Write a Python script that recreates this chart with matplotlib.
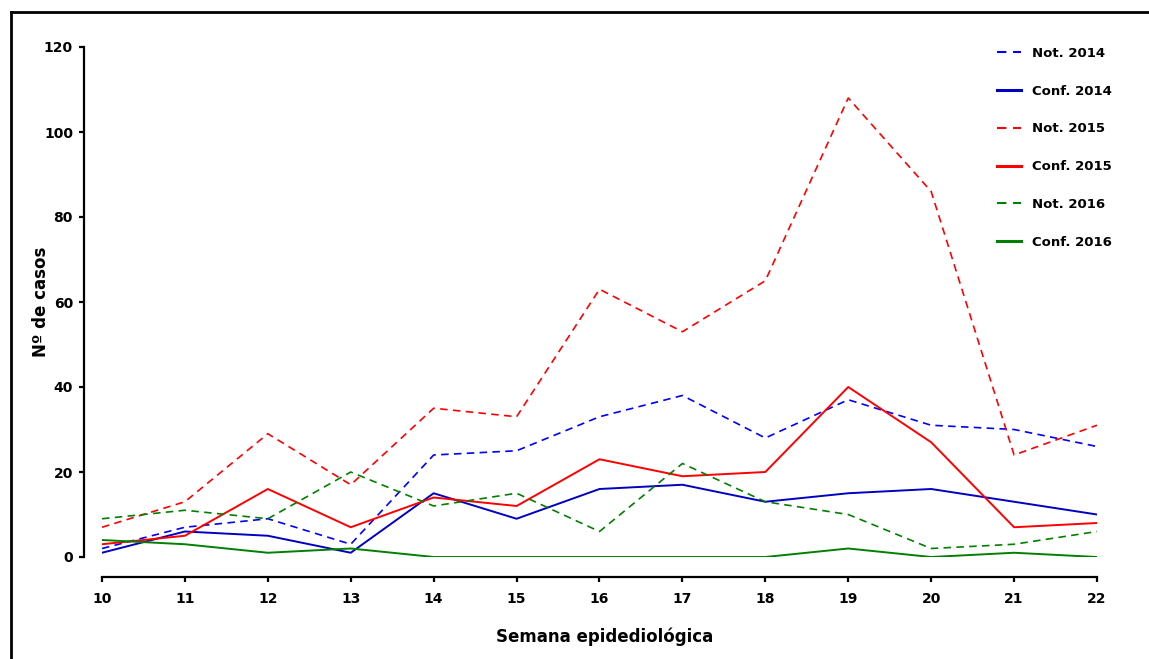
import matplotlib
matplotlib.use("Agg")
import matplotlib.pyplot as plt
from matplotlib.lines import Line2D

plt.rcParams['font.family'] = ['DejaVu Sans']
plt.rcParams['font.weight'] = 'bold'

weeks = [10, 11, 12, 13, 14, 15, 16, 17, 18, 19, 20, 21, 22]
not_2014 = [2, 7, 9, 3, 24, 25, 33, 38, 28, 37, 31, 30, 26]
conf_2014 = [1, 6, 5, 1, 15, 9, 16, 17, 13, 15, 16, 13, 10]
not_2015 = [7, 13, 29, 17, 35, 33, 63, 53, 65, 108, 86, 24, 31]
conf_2015 = [3, 5, 16, 7, 14, 12, 23, 19, 20, 40, 27, 7, 8]
not_2016 = [9, 11, 9, 20, 12, 15, 6, 22, 13, 10, 2, 3, 6]
conf_2016 = [4, 3, 1, 2, 0, 0, 0, 0, 0, 2, 0, 1, 0]
y_ticks = [0, 20, 40, 60, 80, 100, 120]

W, H = 1149, 659
PX = 72 / 100  # points per pixel
fig = plt.figure(figsize=(W / 100, H / 100), dpi=100)
ax = fig.add_axes([102 / W, 1 - 557 / H, (1097 - 102) / W, (557 - 47) / H])

dash = (0, (4.5, 3.2))
ax.plot(weeks, not_2014, color='#0000FF', lw=1.2, linestyle=dash, label='Not. 2014')
ax.plot(weeks, conf_2014, color='#0000C0', lw=1.4, label='Conf. 2014')
ax.plot(weeks, not_2015, color='#FF0000', lw=1.2, linestyle=dash, label='Not. 2015')
ax.plot(weeks, conf_2015, color='#FF0000', lw=1.4, label='Conf. 2015')
ax.plot(weeks, not_2016, color='#008000', lw=1.2, linestyle=dash, label='Not. 2016')
ax.plot(weeks, conf_2016, color='#008000', lw=1.4, label='Conf. 2016')

ax.set_xlim(10, 22)
ax.set_ylim(0, 120)
ax.set_xticks(weeks)
ax.set_yticks(y_ticks)
for s in ['top', 'right']:
    ax.spines[s].set_visible(False)
ax.spines['left'].set_position(('outward', 18 * PX))
ax.spines['bottom'].set_position(('outward', 20 * PX))
for s in ['left', 'bottom']:
    ax.spines[s].set_linewidth(1.6)
ax.tick_params(axis='y', width=1.6, length=5 * PX, labelsize=10, pad=6 * PX)
ax.tick_params(axis='x', width=1.6, length=5 * PX, labelsize=10, pad=10 * PX)
for lab in ax.get_xticklabels() + ax.get_yticklabels():
    lab.set_fontweight('bold')

ax.set_xlabel('Semana epidediológica', fontsize=12, fontweight='bold')
ax.set_ylabel('Nº de casos', fontsize=12, fontweight='bold')
ax.xaxis.set_label_coords(0.505, (557 - 627) / 510)
ax.yaxis.set_label_coords((50 - 102) / 995, 0.5)

leg = fig.legend(loc='upper left', bbox_to_anchor=(985 / W, 1 - 35 / H), frameon=False,
                 fontsize=9.5, handlelength=1.8, labelspacing=1.88, handletextpad=0.9)
for t in leg.get_texts():
    t.set_fontweight('bold')
for ln in leg.get_lines():
    if ln.get_linestyle() == '-':
        ln.set_linewidth(2.2)
    else:
        ln.set_linewidth(1.5)

fig.add_artist(Line2D([11 / W, 11 / W], [0, 1 - 12 / H], transform=fig.transFigure, color='black', lw=2))
fig.add_artist(Line2D([11 / W, 1], [1 - 12 / H, 1 - 12 / H], transform=fig.transFigure, color='black', lw=2))

fig.savefig('out.png', dpi=100)
